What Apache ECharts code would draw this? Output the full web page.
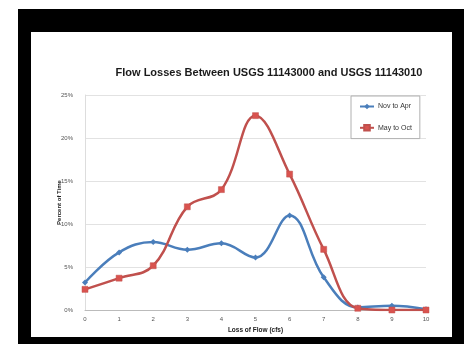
<!DOCTYPE html>
<html>
<head>
<meta charset="utf-8">
<script src="https://cdn.jsdelivr.net/npm/echarts@6/dist/echarts.min.js"></script>
<style>
html,body{margin:0;padding:0;background:#fff;}
#c{width:464px;height:344px;}
</style>
</head>
<body>
<div id="c"></div>
<script>
var categories = ['0','1','2','3','4','5','6','7','8','9','10'];
var novToApr = [3.2, 6.7, 7.9, 7.0, 7.75, 6.1, 11.0, 3.8, 0.3, 0.5, 0.1];
var mayToOct = [2.4, 3.7, 5.15, 12.0, 14.0, 22.6, 15.8, 7.05, 0.2, 0.0, 0.0];
var yTicks = [0, 5, 10, 15, 20, 25];

var chart = echarts.init(document.getElementById('c'));
chart.setOption({
  animation: false,
  backgroundColor: '#fff',
  graphic: [
    {type:'rect', z:-10, silent:true, shape:{x:18,y:9,width:446,height:335}, style:{fill:'#000'}},
    {type:'rect', z:-9, silent:true, shape:{x:31,y:32,width:421,height:305}, style:{fill:'#fff'}}
  ],
  title: {
    text: 'Flow Losses Between USGS 11143000 and USGS 11143010',
    left: 264, top: 62, textAlign: 'center',
    textStyle: {fontFamily: 'Liberation Sans, Arial, sans-serif', fontSize: 11, fontWeight: 'bold', color: '#1a1a1a'}
  },
  legend: {
    orient: 'vertical', left: 351, top: 96,
    padding: [7, 8, 7, 8], itemGap: 14, itemWidth: 14, itemHeight: 7,
    borderColor: '#b0b0b0', borderWidth: 1, backgroundColor: '#fff',
    textStyle: {fontFamily: 'Liberation Sans, Arial, sans-serif', fontSize: 7, color: '#333', padding: [0, 0, 0, -1]},
    data: ['Nov to Apr', 'May to Oct']
  },
  grid: {left: 85, right: 38, top: 95, bottom: 34},
  xAxis: {
    type: 'category', data: categories, boundaryGap: false,
    name: 'Loss of Flow (cfs)', nameLocation: 'middle', nameGap: 14,
    nameTextStyle: {fontFamily: 'Liberation Sans, Arial, sans-serif', fontSize: 6.5, fontWeight: 'bold', color: '#222'},
    axisLine: {lineStyle: {color: '#bbb'}},
    axisTick: {show: false},
    axisLabel: {fontFamily: 'Liberation Sans, Arial, sans-serif', fontSize: 6, color: '#555', margin: 6},
    splitLine: {show: false}
  },
  yAxis: {
    type: 'value', min: yTicks[0], max: yTicks[yTicks.length-1], interval: 5,
    name: 'Percent of Time', nameLocation: 'middle', nameGap: 23, nameMoveOverlap: false,
    nameTextStyle: {fontFamily: 'Liberation Sans, Arial, sans-serif', fontSize: 6, fontWeight: 'bold', color: '#222'},
    axisLine: {show: true, lineStyle: {color: '#ddd'}},
    axisTick: {show: false},
    axisLabel: {fontFamily: 'Liberation Sans, Arial, sans-serif', fontSize: 6, color: '#555', margin: 12, formatter: '{value}%'},
    splitLine: {lineStyle: {color: '#e2e2e2'}}
  },
  series: [
    {
      name: 'Nov to Apr', type: 'line', smooth: 0.4, data: novToApr,
      symbol: 'diamond', symbolSize: 6,
      lineStyle: {color: '#4a7ebb', width: 2.5},
      itemStyle: {color: '#4a7ebb'}
    },
    {
      name: 'May to Oct', type: 'line', smooth: 0.4, data: mayToOct,
      symbol: 'rect', symbolSize: 6,
      lineStyle: {color: '#c0504d', width: 2.5},
      itemStyle: {color: '#d9534f', borderColor: '#c0504d', borderWidth: 0.5}
    }
  ]
});
</script>
</body>
</html>
